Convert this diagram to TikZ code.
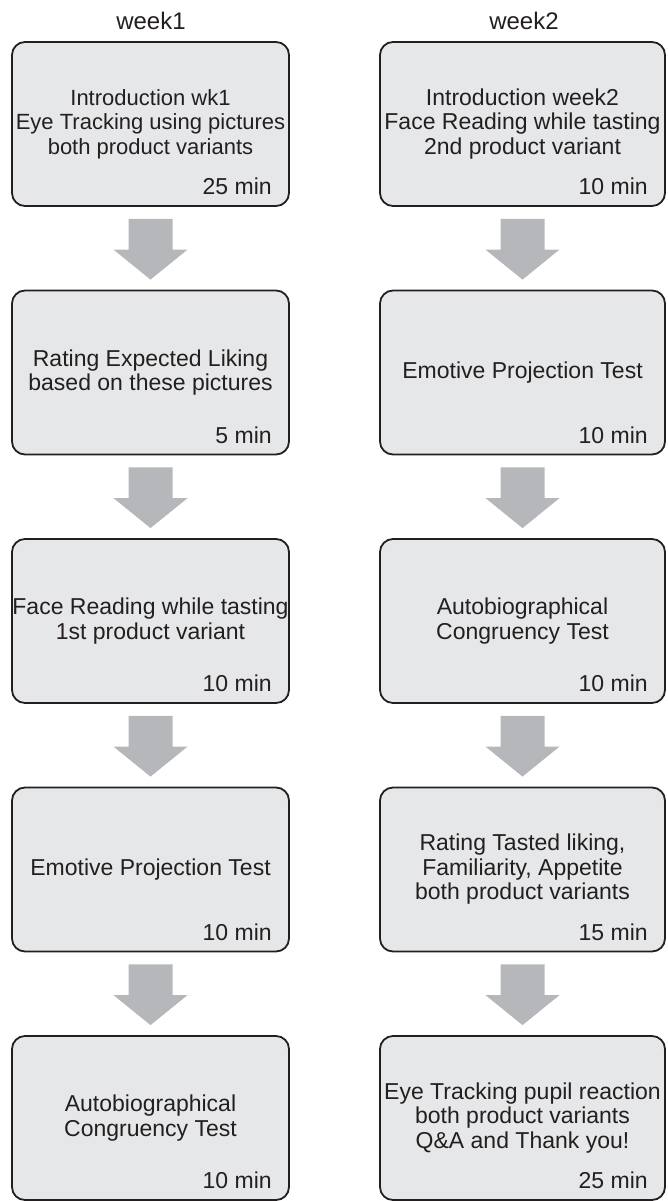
\documentclass[tikz,border=0pt]{standalone}
\usepackage{fontspec}
\setmainfont{Liberation Sans}
\usepackage{xcolor}
\usetikzlibrary{calc}
\definecolor{boxgray}{HTML}{E6E7E8}
\definecolor{arrowgray}{HTML}{B5B7BA}
\definecolor{ink}{HTML}{231F20}
% block arrow from one stage to the next
\newcommand{\stepflow}[2]{%
  \fill[arrowgray] ([xshift=-22pt,yshift=-12pt]#1.south) -- ([xshift=22pt,yshift=-12pt]#1.south)
    -- ([xshift=22pt,yshift=40pt]#2.north) -- ([xshift=37pt,yshift=40pt]#2.north)
    -- ([yshift=10pt]#2.north) -- ([xshift=-37pt,yshift=40pt]#2.north)
    -- ([xshift=-22pt,yshift=40pt]#2.north) -- cycle;}

\begin{document}
\begin{tikzpicture}[x=1pt,y=1pt,
	    every node/.style={text=ink, font=\fontsize{23}{24.5}\selectfont},
	    stage/.style={draw=ink, fill=boxgray, line width=1.8pt, rounded corners=13pt,
	      minimum height=164pt, inner xsep=0pt, inner ysep=2pt, align=center},
	    leftstage/.style={stage, minimum width=277pt},
	    rightstage/.style={stage, minimum width=285pt},
	    dur/.style={anchor=base east, xshift=-18pt, yshift=12pt, inner sep=0pt},
	    head/.style={anchor=base, font=\fontsize{24}{26}\selectfont}]
	    \useasboundingbox (0,0) rectangle (667,-1201);
	    % headers
	    \node[head] (wk1) at (151,-30) {week1};
	    \node[head] (wk2) at (524,-30) {week2};
	    % week 1
	    \node[leftstage, font=\fontsize{22}{24.5}\selectfont] (l1) at (150.5,-124) {Introduction wk1\\Eye Tracking using pictures\\both product variants};
	    \node[leftstage] (l2) at (150.5,-372.5) {Rating Expected Liking\\based on these pictures};
	    \node[leftstage] (l3) at (150.5,-621) {Face Reading while tasting\\1st product variant};
	    \node[leftstage] (l4) at (150.5,-869.5) {Emotive Projection Test};
	    \node[leftstage] (l5) at (150.5,-1118) {Autobiographical\\Congruency Test};
	    \node[dur] (t1) at (l1.south east) {25 min};
	    \node[dur] (t2) at (l2.south east) {5 min};
	    \node[dur] (t3) at (l3.south east) {10 min};
	    \node[dur] (t4) at (l4.south east) {10 min};
	    \node[dur] (t5) at (l5.south east) {10 min};
	    % week 2
	    \node[rightstage] (r1) at (522.5,-124) {Introduction week2\\Face Reading while tasting\\2nd product variant};
	    \node[rightstage] (r2) at (522.5,-372.5) {Emotive Projection Test};
	    \node[rightstage] (r3) at (522.5,-621) {Autobiographical\\Congruency Test};
	    \node[rightstage] (r4) at (522.5,-869.5) {Rating Tasted liking,\\Familiarity, Appetite\\both product variants};
	    \node[rightstage] (r5) at (522.5,-1118) {Eye Tracking pupil reaction\\both product variants\\Q\&A and Thank you!};
	    \node[dur] (s1) at (r1.south east) {10 min};
	    \node[dur] (s2) at (r2.south east) {10 min};
	    \node[dur] (s3) at (r3.south east) {10 min};
	    \node[dur] (s4) at (r4.south east) {15 min};
	    \node[dur] (s5) at (r5.south east) {25 min};
	    % arrows
	    \stepflow{l1}{l2}
	    \stepflow{l2}{l3}
	    \stepflow{l3}{l4}
	    \stepflow{l4}{l5}
	    \stepflow{r1}{r2}
	    \stepflow{r2}{r3}
	    \stepflow{r3}{r4}
	    \stepflow{r4}{r5}
	\end{tikzpicture}
\end{document}
